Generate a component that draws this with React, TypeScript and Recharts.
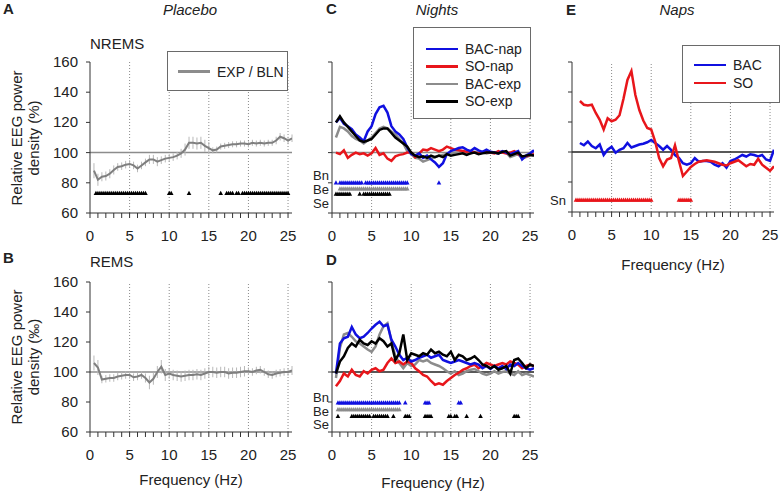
import React from "react";
import { ComposedChart, Line, Scatter, XAxis, YAxis, ReferenceLine, ErrorBar } from "recharts";

// frequency bins (Hz)
const FREQ = [0.5, 1, 1.5, 2, 2.5, 3, 3.5, 4, 4.5, 5, 5.5, 6, 6.5, 7, 7.5, 8, 8.5, 9, 9.5, 10,
  10.5, 11, 11.5, 12, 12.5, 13, 13.5, 14, 14.5, 15, 15.5, 16, 16.5, 17, 17.5, 18, 18.5, 19, 19.5, 20,
  20.5, 21, 21.5, 22, 22.5, 23, 23.5, 24, 24.5, 25, 25.5];

const X_TICKS = [0, 1, 2, 3, 4, 5, 6, 7, 8, 9, 10, 11, 12, 13, 14, 15, 16, 17, 18, 19, 20, 21, 22, 23, 24, 25];
const X_LABELS = [0, 5, 10, 15, 20, 25];
const GRID_X = [5, 10, 15, 20, 25];
const Y_TICKS = [60, 80, 100, 120, 140, 160];

// A: placebo NREMS, EXP / BLN
const A_EXP = [88, 82, 84, 84.5, 86, 88.5, 90.5, 91, 92, 92.5,
  91.5, 89.5, 91.5, 93.5, 95.5, 95.5, 94, 95, 96, 96.5,
  97, 98, 99.5, 102, 106.5, 106.5, 106, 106.5, 104.5, 103,
  101.5, 102, 104, 104.5, 105, 105.5, 105.5, 106, 106, 105.5,
  106.5, 106, 106.5, 106, 106.5, 106.5, 108, 110.5, 109.5, 108,
  109.5];
const A_ERR = [5, 4, 3, 3, 3, 3, 2.5, 2.5, 2.5, 2.5,
  2.5, 2.5, 2.5, 2.5, 3, 3, 3, 2.5, 2.5, 2.5,
  2.5, 2.5, 3, 4, 4, 4, 4, 4, 4, 4,
  2, 2, 2, 2, 2, 2, 2, 2, 2, 2,
  2, 2, 2, 2, 2, 2, 2.5, 2.5, 2.5, 2.5,
  2.5];

// B: placebo REMS
const B_EXP = [106, 103, 95, 95.5, 96, 96, 97, 97.5, 98, 98,
  96.5, 97, 98, 96, 93, 95.5, 100, 103.5, 98, 99,
  98, 97.5, 97, 97.5, 98, 98, 98.5, 98, 99, 100,
  100, 99.5, 100, 100, 99, 99.5, 99.5, 100, 100.5, 100.5,
  100, 101, 101.5, 100, 98.5, 98, 99, 99.5, 100, 100,
  101];
const B_ERR = [5, 5, 2.5, 2.5, 2.5, 2.5, 2.5, 2.5, 2.5, 2.5,
  2.5, 2.5, 2.5, 3, 4.5, 4, 4, 4.5, 4, 3.5,
  3.5, 3.5, 3.5, 3.5, 3.5, 3.5, 3.5, 3.5, 3.5, 3.5,
  3.5, 3.5, 3.5, 3.5, 3.5, 3.5, 3.5, 3.5, 3.5, 2.5,
  2.5, 2.5, 2.5, 2.5, 2.5, 2.5, 2.5, 2.5, 2.5, 2.5,
  3];

// C: nights, NREMS
const C_BAC_NAP = [120, 123, 119, 117.5, 115.5, 112, 110, 107.5, 114, 117.5,
  125.5, 130, 131, 126.5, 117.5, 114, 112, 109, 103.5, 99,
  98, 99.5, 96.5, 98, 95.5, 93.5, 90.5, 93, 99, 101,
  102, 103, 103.5, 102, 101, 103, 101.5, 100.5, 102, 100.5,
  100, 99.5, 101, 100, 99, 100, 101, 95.5, 98, 99.5,
  101.5];
const C_SO_NAP = [100, 99, 101.5, 96.5, 98.5, 100, 99, 99.5, 98, 99.5,
  103, 98.5, 99.5, 96, 94.5, 97.5, 98.5, 99, 100, 100,
  97, 99.5, 102, 101.5, 103, 102, 101, 102, 104, 103,
  102, 101.5, 101, 100.5, 101, 100, 99.5, 100, 100.5, 100,
  99.5, 101, 100, 99.5, 100, 101, 99, 97, 97.5, 98.5,
  99];
const C_BAC_EXP = [110, 117, 116, 114, 111, 109, 108, 106, 108, 110,
  113, 116, 117, 116, 114, 112, 109, 106, 101, 99,
  96.5, 96, 94, 95, 96, 97, 98, 98.5, 99, 99.5,
  100, 100, 100.5, 100, 99.5, 100.5, 100, 100, 99.5, 100,
  100, 99.5, 100.5, 100, 97, 98, 99, 96, 97, 98,
  98];
const C_SO_EXP = [120, 124, 120, 117, 114, 111, 108, 107, 108, 109,
  112, 115, 116, 116, 113, 110, 108, 106, 104, 100,
  98, 97, 97.5, 96.5, 98, 97, 98, 97, 99, 98,
  98.5, 99, 99.5, 98.5, 99.5, 100, 99, 99.5, 100, 100,
  100, 99.5, 100.5, 101, 98, 99, 100, 97.5, 98, 98.5,
  98];

// D: nights, REMS
const D_BAC_NAP = [99, 119, 122.5, 123.5, 130, 125, 122.5, 123.5, 126, 129,
  131.5, 133.5, 130.5, 131.5, 121.5, 117, 111.5, 108, 109.5, 107,
  108, 109.5, 110.5, 111.5, 109.5, 110.5, 111.5, 108, 107, 106,
  107, 108, 107, 106, 105, 106, 105, 102.5, 104, 102,
  104, 102.5, 104, 102, 105, 104, 106, 104, 102.5, 101.5,
  102.5];
const D_SO_NAP = [90.5, 94, 99, 97, 101.5, 98, 97, 100.5, 99, 101.5,
  102.5, 100.5, 101.5, 106, 109, 106, 107, 105, 107, 106,
  102.5, 100.5, 98, 97, 94, 91.5, 92.5, 91.5, 94, 96,
  98, 99.5, 101.5, 102.5, 104, 105, 102.5, 104, 106, 105,
  104, 105, 106, 105, 107, 106, 105, 102.5, 104, 105,
  104];
const D_BAC_EXP = [96, 116, 125, 126, 123.5, 120.5, 119, 117, 115, 113.5,
  117, 125, 130.5, 132.5, 120.5, 110.5, 106, 102.5, 106, 104,
  105, 108, 107, 108, 106, 105, 104, 102.5, 100.5, 99,
  100.5, 98, 99, 100.5, 101.5, 102, 100.5, 99, 98, 99,
  100.5, 99, 100, 100.5, 99, 98, 100.5, 98, 99, 98,
  97];
const D_SO_EXP = [99, 107, 110.5, 116, 119, 117, 121.5, 119, 118, 120.5,
  119, 122.5, 120.5, 117, 119, 108, 112.5, 125, 108, 112.5,
  111.5, 110.5, 112.5, 111.5, 115, 112.5, 113.5, 111.5, 110.5, 113.5,
  108, 111.5, 110.5, 108, 109, 110.5, 108, 105, 104, 102.5,
  104, 101.5, 102.5, 104, 99, 108, 109, 106, 102.5, 105,
  104];

// E: naps
const E_BAC = [null, 106, 104.5, 107, 104, 102.5, 105, 98, 101.5, 103.5,
  99.5, 101.5, 102.5, 106, 103, 104, 105, 105.5, 106.5, 108,
  106, 104, 101.5, 104, 101.5, 98, 96, 92.5, 91.5, 92.5,
  96, 93.5, 94, 94, 93.5, 91.5, 90.5, 92.5, 89.5, 94,
  95, 96.5, 98, 97, 98.5, 98, 97, 98, 95, 94,
  101.5];
const E_SO = [null, 134, 131.5, 131, 131.5, 126, 121.5, 115, 122.5, 120.5,
  121.5, 124.5, 135.5, 148, 154, 138, 128, 121, 116, 115,
  107, 96, 90.5, 95, 96, 104.5, 94, 84, 87, 90,
  92, 93.5, 94, 94.5, 94, 93.5, 92.5, 91.5, 91, 92.5,
  93.5, 94.5, 92.5, 90.5, 92, 91.5, 95.5, 91.5, 89.5, 87.5,
  90.5];

// significant bins (0.25 Hz), given as runs [from, to]
const A_SIG = [[0.75, 7], [10, 10.25], [12.5, 12.5], [16.5, 16.5], [17.25, 18], [18.5, 18.75], [19.25, 25]];
const C_BN = [[0.5, 0.5], [1, 3.75], [4.25, 9.5], [13.5, 13.5]];
const C_BE = [[1, 9.5]];
const C_SE = [[0.5, 2.25], [3.5, 3.5], [4, 7.25]];
const D_BN = [[0.75, 8.5], [9.25, 9.25], [11.75, 12.25], [16, 16.25]];
const D_BE = [[0.75, 8.5]];
const D_SE = [[0.75, 0.75], [2.5, 4.75], [5.25, 7], [7.75, 7.75], [9.25, 9.75], [11.75, 12.5], [14.75, 15], [15.5, 15.75], [17, 17], [18.75, 18.75], [23, 23.5]];
const E_SN = [[0.5, 10], [13.5, 15]];

const BLUE = "#1010e0";
const RED = "#e8161b";
const GRAY = "#8c8c8c";
const BLACK = "#000000";
const FONT = '"Liberation Sans", Arial, sans-serif';

const PW = 202;
const YW = 60;
const MT = 10;
const MR = 8;
const XH = 40;

const runs = (r: number[][]) =>
  r.flatMap(([a, b]) => {
    const out: number[] = [];
    for (let f = a; f <= b + 1e-6; f += 0.25) out.push(f);
    return out;
  });

const rowsOf = (cols: Record<string, (number | null)[]>) =>
  FREQ.map((f, i) => {
    const r: Record<string, number | null> = { f };
    Object.keys(cols).forEach((k) => (r[k] = cols[k][i]));
    return r;
  });

const Tri = (p: any) => (
  <path
    d={`M${p.cx},${p.cy - 2.6}L${p.cx + 2.3},${p.cy + 1.7}L${p.cx - 2.3},${p.cy + 1.7}Z`}
    fill={p.fill}
  />
);

const XTick = (p: any) =>
  X_LABELS.includes(p.payload.value) ? (
    <text x={p.x} y={p.y} dy={21} textAnchor="middle" fontSize={15} fill="#222">
      {p.payload.value}
    </text>
  ) : (
    <g />
  );

const YTick = (p: any) => (
  <text x={p.x} y={p.y} dy={5} textAnchor="end" fontSize={15} fill="#222">
    {p.payload.value}
  </text>
);
const NoTick = () => <g />;

interface LineSpec {
  key: string;
  color: string;
  err?: string;
}
interface MarkSpec {
  runs: number[][];
  level: number;
  color: string;
}

function Panel(props: {
  x0: number;
  y0: number;
  ph: number;
  rows: any[];
  lines: LineSpec[];
  marks: MarkSpec[];
  yLabels?: boolean;
  refColor: string;
  lineWidth: number;
}) {
  const { x0, y0, ph, rows, lines, marks, yLabels, refColor, lineWidth } = props;
  return (
    <div style={{ position: "absolute", left: x0 - YW, top: y0 - MT }}>
      <ComposedChart
        width={YW + PW + MR}
        height={MT + ph + XH}
        data={rows}
        margin={{ top: MT, right: MR, bottom: 0, left: 0 }}
      >
        <XAxis
          dataKey="f"
          type="number"
          domain={[0, 25.5]}
          ticks={X_TICKS}
          interval={0}
          tickSize={5}
          tickMargin={2}
          height={XH}
          stroke="#333"
          tick={XTick}
          allowDataOverflow
        />
        <YAxis
          type="number"
          domain={[60, 160]}
          ticks={Y_TICKS}
          interval={0}
          tickSize={4}
          tickMargin={8}
          width={YW}
          stroke="#333"
          tick={yLabels ? YTick : NoTick}
          allowDataOverflow
        />
        {GRID_X.map((x) => (
          <ReferenceLine key={x} x={x} stroke="#8a8a8a" strokeDasharray="1 2" />
        ))}
        <ReferenceLine y={100} stroke={refColor} strokeWidth={1.5} />
        {lines.map((l) =>
          l.err ? (
            <Line
              key={l.key + "-err"}
              type="linear"
              dataKey={l.key}
              stroke="none"
              dot={false}
              isAnimationActive={false}
            >
              <ErrorBar dataKey={l.err} width={0} stroke="#b8b8b8" strokeWidth={1} direction="y" />
            </Line>
          ) : null
        )}
        {lines.map((l) => (
          <Line
            key={l.key}
            type="linear"
            dataKey={l.key}
            stroke={l.color}
            strokeWidth={lineWidth}
            dot={false}
            connectNulls={false}
            isAnimationActive={false}
          />
        ))}
        {marks.map((m, i) => (
          <Scatter
            key={i}
            data={runs(m.runs).map((f) => ({ f, y: m.level }))}
            dataKey="y"
            fill={m.color}
            shape={Tri}
            isAnimationActive={false}
          />
        ))}
      </ComposedChart>
    </div>
  );
}

function Txt(props: {
  x: number;
  y: number;
  anchor?: "start" | "middle" | "end";
  size?: number;
  h?: number;
  bold?: boolean;
  italic?: boolean;
  children: React.ReactNode;
}) {
  const { x, y, anchor = "start", size = 15, bold, italic, children } = props;
  const w = anchor === "middle" ? 240 : 120;
  const h = props.h ?? size + 1;
  const left = anchor === "start" ? x : anchor === "middle" ? x - w / 2 : x - w;
  return (
    <div
      style={{
        position: "absolute",
        left,
        top: y - h / 2,
        width: w,
        height: h,
        lineHeight: `${h}px`,
        fontSize: size,
        fontWeight: bold ? "bold" : "normal",
        fontStyle: italic ? "italic" : "normal",
        textAlign: anchor === "start" ? "left" : anchor === "middle" ? "center" : "right",
        whiteSpace: "nowrap",
        color: "#222",
      }}
    >
      {children}
    </div>
  );
}

function YLabel({ cx, cy, unit }: { cx: number; cy: number; unit: string }) {
  return (
    <div
      style={{
        position: "absolute",
        left: cx - 100,
        top: cy - 17,
        width: 200,
        height: 34,
        lineHeight: "17px",
        fontSize: 15,
        textAlign: "center",
        transform: "rotate(-90deg)",
        color: "#222",
      }}
    >
      Relative EEG power
      <br />
      density ({unit})
    </div>
  );
}

function LegendBox(props: {
  left: number;
  top: number;
  width: number;
  height: number;
  padTop: number;
  rowH: number;
  padLeft: number;
  items: { label: string; color: string }[];
  fontSize: number;
}) {
  const { left, top, width, height, padTop, rowH, padLeft, items, fontSize } = props;
  return (
    <div
      style={{
        position: "absolute",
        left,
        top,
        width,
        height,
        boxSizing: "border-box",
        border: "1px solid #6a6a6a",
        background: "#fff",
        paddingTop: padTop,
        paddingLeft: padLeft,
      }}
    >
      {items.map((it) => (
        <div key={it.label} style={{ display: "flex", alignItems: "center", height: rowH }}>
          <div style={{ width: 32, height: 2.5, background: it.color, marginRight: 7 }} />
          <span style={{ fontSize, color: "#222", whiteSpace: "nowrap" }}>{it.label}</span>
        </div>
      ))}
    </div>
  );
}

export default function App() {
  const rowsA = rowsOf({ v: A_EXP, e: A_ERR });
  const rowsB = rowsOf({ v: B_EXP, e: B_ERR });
  const rowsC = rowsOf({ bn: C_BAC_NAP, sn: C_SO_NAP, be: C_BAC_EXP, se: C_SO_EXP });
  const rowsD = rowsOf({ bn: D_BAC_NAP, sn: D_SO_NAP, be: D_BAC_EXP, se: D_SO_EXP });
  const rowsE = rowsOf({ b: E_BAC, s: E_SO });

  const nightLines: LineSpec[] = [
    { key: "be", color: GRAY },
    { key: "sn", color: RED },
    { key: "bn", color: BLUE },
    { key: "se", color: BLACK },
  ];

  return (
    <div
      style={{
        position: "absolute",
        left: 0,
        top: 0,
        width: 780,
        height: 494,
        background: "#fff",
        fontFamily: FONT,
        overflow: "hidden",
      }}
    >
      <Panel
        x0={90}
        y0={62}
        ph={151}
        rows={rowsA}
        lines={[{ key: "v", color: "#7f7f7f", err: "e" }]}
        marks={[{ runs: A_SIG, level: 73, color: BLACK }]}
        yLabels
        refColor="#8c8c8c"
        lineWidth={2}
      />
      <Panel
        x0={90}
        y0={282}
        ph={150}
        rows={rowsB}
        lines={[{ key: "v", color: "#7f7f7f", err: "e" }]}
        marks={[]}
        yLabels
        refColor="#8c8c8c"
        lineWidth={2}
      />
      <Panel
        x0={332}
        y0={62}
        ph={151}
        rows={rowsC}
        lines={nightLines}
        marks={[
          { runs: C_BN, level: 80, color: BLUE },
          { runs: C_BE, level: 76, color: GRAY },
          { runs: C_SE, level: 72.5, color: BLACK },
        ]}
        refColor="#8c8c8c"
        lineWidth={2.5}
      />
      <Panel
        x0={332}
        y0={282}
        ph={150}
        rows={rowsD}
        lines={nightLines}
        marks={[
          { runs: D_BN, level: 79.5, color: BLUE },
          { runs: D_BE, level: 75, color: GRAY },
          { runs: D_SE, level: 70.5, color: BLACK },
        ]}
        refColor="#222"
        lineWidth={2.5}
      />
      <Panel
        x0={572}
        y0={62}
        ph={150}
        rows={rowsE}
        lines={[
          { key: "b", color: BLUE },
          { key: "s", color: RED },
        ]}
        marks={[{ runs: E_SN, level: 68, color: RED }]}
        refColor="#222"
        lineWidth={2.5}
      />

      <Txt x={3} y={9} bold>A</Txt>
      <Txt x={190} y={10} anchor="middle" italic>Placebo</Txt>
      <Txt x={90} y={44}>NREMS</Txt>
      <YLabel cx={25} cy={138} unit="%" />

      <Txt x={3} y={258} bold>B</Txt>
      <Txt x={90} y={262}>REMS</Txt>
      <YLabel cx={25} cy={357} unit="‰" />
      <Txt x={191} y={480} anchor="middle">Frequency (Hz)</Txt>

      <Txt x={326} y={9} bold>C</Txt>
      <Txt x={437} y={10} anchor="middle" italic>Nights</Txt>
      <Txt x={329} y={176} anchor="end" size={13} h={12}>Bn</Txt>
      <Txt x={329} y={190} anchor="end" size={13} h={12}>Be</Txt>
      <Txt x={329} y={204} anchor="end" size={13} h={12}>Se</Txt>

      <Txt x={326} y={260} bold>D</Txt>
      <Txt x={329} y={398} anchor="end" size={13} h={12}>Bn</Txt>
      <Txt x={329} y={411.5} anchor="end" size={13} h={12}>Be</Txt>
      <Txt x={329} y={425} anchor="end" size={13} h={12}>Se</Txt>
      <Txt x={433} y={483} anchor="middle">Frequency (Hz)</Txt>

      <Txt x={566} y={10} bold>E</Txt>
      <Txt x={677} y={10} anchor="middle" italic>Naps</Txt>
      <Txt x={566} y={201} anchor="end" size={13} h={12}>Sn</Txt>
      <Txt x={673} y={265} anchor="middle">Frequency (Hz)</Txt>

      <LegendBox
        left={167}
        top={51}
        width={121}
        height={40}
        padTop={10.5}
        padLeft={10}
        rowH={18}
        fontSize={14}
        items={[{ label: "EXP / BLN", color: "#8c8c8c" }]}
      />
      <LegendBox
        left={413}
        top={27}
        width={118}
        height={92}
        padTop={12}
        padLeft={12}
        rowH={17.5}
        fontSize={14}
        items={[
          { label: "BAC-nap", color: BLUE },
          { label: "SO-nap", color: RED },
          { label: "BAC-exp", color: GRAY },
          { label: "SO-exp", color: BLACK },
        ]}
      />
      <LegendBox
        left={682}
        top={45}
        width={98}
        height={58}
        padTop={10}
        padLeft={11}
        rowH={18}
        fontSize={14}
        items={[
          { label: "BAC", color: BLUE },
          { label: "SO", color: RED },
        ]}
      />
    </div>
  );
}
